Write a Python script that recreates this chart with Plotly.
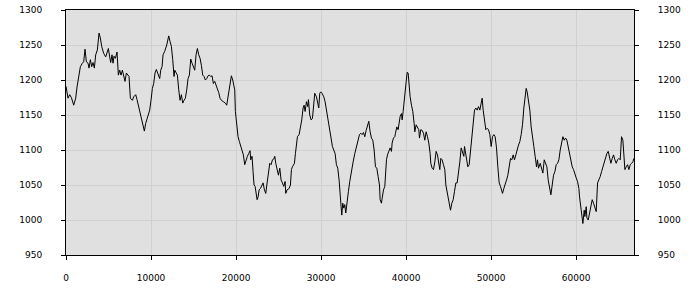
import plotly.graph_objects as go

x_vals = [
    0, 239, 435, 631, 905, 1141, 1297, 1493, 1689, 1925, 2081, 2238, 2395, 2591, 2709, 2865,
    3022, 3179, 3336, 3493, 3689, 3885, 4041, 4198, 4433, 4669, 4825, 4982, 5139, 5257, 5413,
    5531, 5649, 5805, 6001, 6158, 6315, 6472, 6629, 6785, 6942, 7099, 7256, 7413, 7569, 7805,
    7961, 8197, 8353, 8510, 8667, 8863, 9059, 9216, 9373, 9529, 9686, 9843, 10000, 10157,
    10313, 10470, 10627, 10823, 11019,
    11141, 11297, 11415, 11611, 11846, 12081, 12238, 12395, 12552, 12709, 12787, 12983, 13101,
    13257, 13414, 13571, 13728, 13885, 14041, 14198, 14355, 14512, 14669, 14825, 14982, 15139,
    15296, 15453, 15609, 15766, 15923, 16080, 16237, 16393, 16550, 16707, 16864, 17021, 17177,
    17334, 17491, 17648, 17805, 17961, 18118, 18275, 18510, 18745, 18902, 19059, 19216, 19373,
    19451, 19608, 19765, 19843, 19921, 20078, 20235, 20392, 20549, 20705, 20862, 21019, 21176,
    21333, 21489, 21646, 21725, 21881, 21999, 22117,
    22239, 22357, 22474, 22592, 22710, 22866, 23023, 23180, 23337, 23494, 23650, 23807, 23964,
    24121, 24278, 24434, 24552, 24670, 24826, 24983, 25140, 25297, 25454, 25610, 25767, 25846,
    26002, 26238, 26394, 26512, 26630, 26865, 26982, 27100, 27218, 27414, 27570, 27727, 27884,
    28002, 28119, 28276, 28433, 28511, 28668, 28825, 28982, 29138, 29256, 29452, 29609, 29726,
    29844, 29962, 30118, 30314, 30471, 30628, 30785, 30942, 31177, 31334, 31490, 31647, 31804,
    31961, 32118, 32196, 32353, 32432, 32549, 32666, 32784, 32902, 33058, 33215, 33372,
    33573, 33769, 33965, 34161, 34357, 34514, 34671, 34827, 34984, 35141, 35298, 35455, 35611,
    35768, 35925, 36082, 36239, 36395, 36552, 36709, 36866, 36944, 37101, 37179, 37336, 37493,
    37571, 37689, 37807, 37963, 38120, 38277, 38355, 38512, 38669, 38747, 38904, 39061, 39179,
    39296, 39453, 39531, 39649, 39767, 39884, 40002, 40119, 40237, 40315, 40472, 40629, 40786,
    40943, 41021, 41178, 41335, 41491, 41570, 41727, 41883, 42040, 42197, 42354, 42511, 42667,
    42824, 42903, 43059, 43216, 43373, 43530, 43687, 43843, 43961, 44079, 44235, 44392, 44549,
    44672, 44750, 44907, 45064, 45220, 45377, 45534, 45691, 45848, 46004, 46161, 46318, 46475,
    46632, 46788, 46867, 47024, 47102, 47259, 47416, 47572, 47729, 47886, 48043, 48200, 48356,
    48513, 48670, 48827, 48944, 49062, 49219, 49376, 49532, 49689, 49846, 49924, 50003, 50160,
    50316, 50473, 50630, 50787, 50944, 51100, 51257, 51336, 51492, 51649, 51806, 51963, 52120,
    52276, 52433, 52590, 52747, 52904, 53060, 53217, 53374, 53531, 53688, 53844, 54001, 54119,
    54236, 54393, 54550, 54707, 54864, 55020, 55177, 55334, 55452, 55569,
    55770, 55927, 56084, 56241, 56397, 56554, 56711, 56868, 57025, 57181, 57338, 57495, 57652,
    57809, 57965, 58122, 58279, 58436, 58593, 58749, 58906, 59063, 59220, 59377, 59533, 59690,
    59847, 60004, 60161, 60317, 60396, 60553, 60709, 60788, 60945, 61023, 61180, 61258, 61415,
    61572, 61729, 61885, 62042, 62199, 62356, 62513, 62669, 62826, 62983, 63140, 63297, 63453,
    63610, 63767, 63924, 64081, 64237, 64394, 64551, 64708, 64865, 65021, 65178, 65257, 65335,
    65492, 65571, 65727, 65884, 66041, 66198, 66355, 66511, 66668, 66786,
]

y_vals = [
    1191, 1174, 1179, 1175, 1164, 1174, 1190, 1202, 1219, 1224, 1226, 1244, 1226, 1224, 1217, 1229,
    1219, 1225, 1217, 1236, 1243, 1267, 1260, 1248, 1238, 1233, 1238, 1245, 1233, 1225, 1236,
    1224, 1234, 1231, 1240, 1207, 1214, 1207, 1214, 1205, 1198, 1210, 1207, 1205, 1174, 1171,
    1176, 1179, 1172, 1164, 1155, 1145, 1136, 1127, 1138, 1145, 1150, 1157, 1171, 1188,
    1195, 1210, 1215, 1207, 1202,
    1214, 1219, 1236, 1241, 1250, 1263, 1255, 1248, 1229, 1205, 1214, 1210, 1207,
    1186, 1171, 1179, 1167, 1171, 1174, 1186, 1202, 1207, 1230, 1224, 1219, 1214,
    1236, 1245, 1236, 1231, 1221, 1207, 1205, 1200, 1202, 1206, 1207, 1205, 1206,
    1195, 1198, 1193, 1186, 1182, 1174, 1171, 1169, 1167, 1164, 1176, 1188, 1200,
    1206, 1200, 1191, 1186, 1155, 1138, 1119, 1112, 1105, 1102, 1093, 1079, 1086,
    1091, 1095, 1099, 1086, 1091, 1069, 1050,
    1048, 1036, 1029, 1033, 1043, 1045, 1050, 1053, 1043, 1038, 1053, 1064, 1081,
    1079, 1086, 1087, 1091, 1081, 1072, 1064, 1074, 1057, 1053, 1048, 1055, 1038,
    1043, 1045, 1050, 1072, 1076, 1081, 1095, 1107, 1119, 1122, 1131, 1143, 1160,
    1164, 1155, 1169, 1162, 1172, 1150, 1143, 1145, 1167, 1181, 1176, 1169, 1160,
    1181, 1183, 1181, 1176, 1169, 1157, 1145, 1133, 1119, 1105, 1100, 1095, 1079,
    1074, 1057, 1038, 1019, 1007, 1024, 1017, 1022, 1010, 1029, 1041, 1055,
    1072, 1083, 1095, 1105, 1114, 1122, 1124, 1122, 1125, 1119, 1128, 1136, 1141,
    1126, 1117, 1114, 1100, 1076, 1074, 1062, 1050, 1029, 1024, 1031, 1043, 1048,
    1064, 1086, 1093, 1100, 1103, 1098, 1110, 1117, 1119, 1124, 1133, 1129, 1141,
    1148, 1152, 1143, 1155, 1169, 1186, 1200, 1211, 1210, 1193, 1176, 1164, 1155,
    1138, 1126, 1136, 1133, 1129, 1117, 1129, 1128, 1124, 1114, 1126, 1119, 1110,
    1095, 1081, 1074, 1072, 1083, 1098, 1093, 1083, 1072, 1088, 1086, 1079, 1072,
    1050, 1045, 1031, 1022, 1014, 1024, 1029, 1041, 1053, 1053, 1067, 1083, 1103,
    1098, 1091, 1105, 1093, 1086, 1076, 1079, 1100, 1126, 1141, 1157, 1160, 1157,
    1162, 1157, 1167, 1174, 1157, 1143, 1129, 1131, 1129, 1122, 1110, 1105, 1119,
    1122, 1119, 1103, 1076, 1053, 1048, 1043, 1038, 1045, 1050, 1057, 1064, 1079,
    1088, 1086, 1093, 1086, 1095, 1100, 1107, 1112, 1122, 1136, 1160, 1181, 1188,
    1183, 1172, 1157, 1133, 1114, 1105, 1091, 1076, 1086, 1074,
    1081, 1074, 1067, 1086, 1081, 1076, 1057, 1048, 1036, 1050, 1064, 1069, 1079,
    1081, 1086, 1100, 1112, 1119, 1114, 1117, 1114, 1105, 1093, 1088, 1076, 1072,
    1064, 1060, 1055, 1045, 1033, 1019, 1005, 995, 1014, 1005, 1019, 1003, 1000,
    1010, 1024, 1029, 1024, 1019, 1012, 1053, 1057, 1062, 1069, 1076, 1083, 1088,
    1095, 1098, 1091, 1081, 1088, 1093, 1086, 1081, 1086, 1088, 1086, 1107, 1119,
    1114, 1100, 1072, 1076, 1079, 1072, 1079, 1081, 1083, 1088,
]

x_range = [0, 66800]
y_range = [950, 1300]
x_ticks = [0, 10000, 20000, 30000, 40000, 50000, 60000]
y_ticks = [950, 1000, 1050, 1100, 1150, 1200, 1250, 1300]

font = dict(family="DejaVu Sans", size=9, color="#000000")

fig = go.Figure()
fig.add_trace(go.Scatter(x=x_vals, y=y_vals, mode="lines",
                         line=dict(color="#000000", width=1), showlegend=False,
                         hoverinfo="skip"))
# invisible trace to bind the right-hand y axis
fig.add_trace(go.Scatter(x=[x_vals[0]], y=[y_vals[0]], yaxis="y2", mode="lines",
                         line=dict(width=0), showlegend=False, hoverinfo="skip"))

fig.update_layout(
    width=700, height=300,
    margin=dict(l=66, r=66, t=10, b=45, autoexpand=False),
    paper_bgcolor="#ffffff",
    plot_bgcolor="#e0e0e0",
    font=font,
    xaxis=dict(range=x_range, tickvals=x_ticks, ticktext=[str(v) for v in x_ticks],
               showline=True, linecolor="#000000", linewidth=1, mirror=True,
               ticks="outside", ticklen=4, tickcolor="#000000",
               showgrid=True, gridcolor="#d0d0d0", gridwidth=1, zeroline=False,
               ticklabelstandoff=10, tickfont=font, automargin=False),
    yaxis=dict(range=y_range, tickvals=y_ticks, ticktext=[str(v) for v in y_ticks],
               showline=True, linecolor="#000000", linewidth=1,
               ticks="outside", ticklen=4, tickcolor="#000000",
               showgrid=True, gridcolor="#d0d0d0", gridwidth=1, zeroline=False,
               ticklabelstandoff=17, tickfont=font, automargin=False),
    yaxis2=dict(range=y_range, tickvals=y_ticks, ticktext=[str(v) for v in y_ticks],
                overlaying="y", side="right",
                showline=True, linecolor="#000000", linewidth=1,
                ticks="outside", ticklen=4, tickcolor="#000000",
                showgrid=False, zeroline=False,
                ticklabelstandoff=17, tickfont=font, automargin=False),
)

fig.write_html("out.html")
